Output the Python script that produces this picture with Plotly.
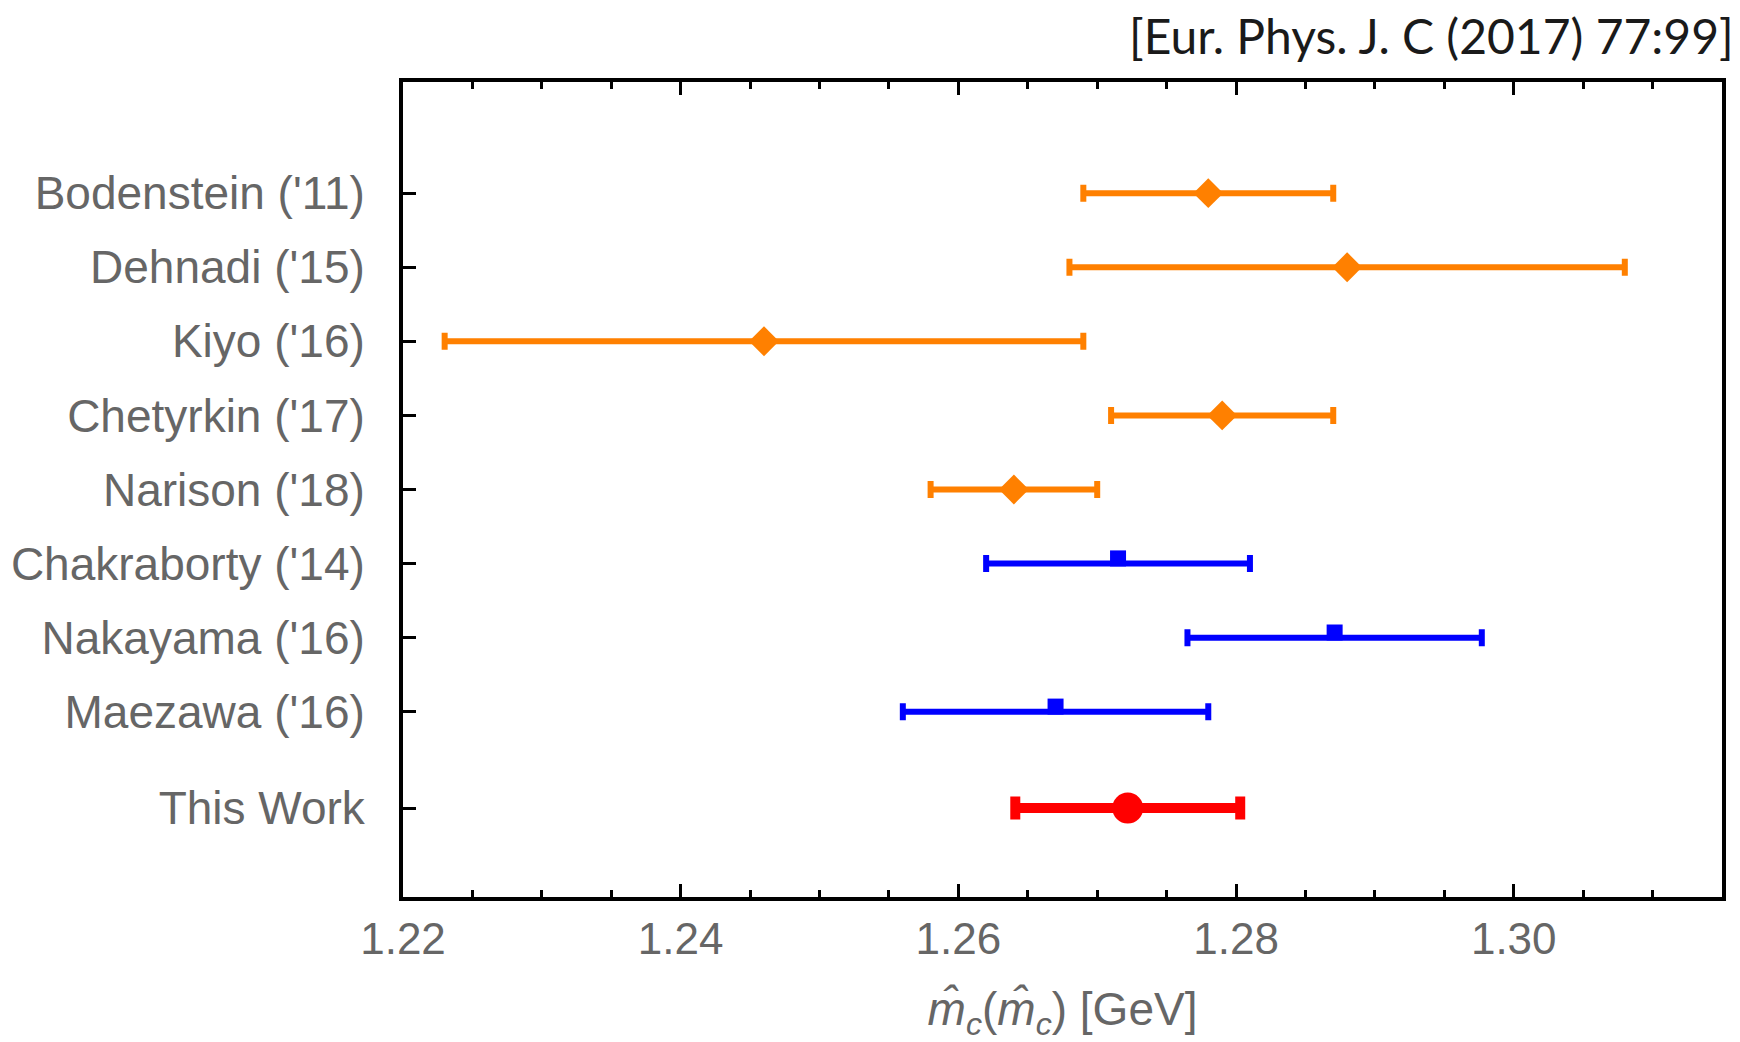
import plotly.graph_objects as go

# Charm-quark MSbar mass determinations, m_c(m_c) in GeV
sumrule_labels = ["Bodenstein ('11)", "Dehnadi ('15)", "Kiyo ('16)", "Chetyrkin ('17)", "Narison ('18)"]
sumrule_central = [1.278, 1.288, 1.246, 1.279, 1.264]
sumrule_err = [0.009, 0.020, 0.023, 0.008, 0.006]

lattice_labels = ["Chakraborty ('14)", "Nakayama ('16)", "Maezawa ('16)"]
lattice_central = [1.2715, 1.2871, 1.267]
lattice_err = [0.0095, 0.0106, 0.011]

this_label = ["This Work"]
this_central = [1.2722]
this_err = [0.0081]

# vertical slots for each row
sumrule_y = [8, 7, 6, 5, 4]
lattice_y = [3, 2, 1]
this_y = [-0.3]

ORANGE = "#FF8000"
BLUE = "#0000FF"
RED = "#FF0000"
GRAY = "#666666"
SQUARE_LIFT = 0.07  # squares sit just above their bar

fig = go.Figure()

# sum-rule results: orange bars with diamonds
fig.add_trace(go.Scatter(
    x=sumrule_central, y=sumrule_y, mode="markers",
    marker=dict(symbol="diamond", size=23, color=ORANGE),
    error_x=dict(type="data", array=sumrule_err, symmetric=True,
                 color=ORANGE, thickness=6, width=8.5),
    hoverinfo="skip", showlegend=False,
))

# lattice results: blue bars with squares
fig.add_trace(go.Scatter(
    x=lattice_central, y=lattice_y, mode="markers",
    marker=dict(symbol="square", size=2, color=BLUE),
    error_x=dict(type="data", array=lattice_err, symmetric=True,
                 color=BLUE, thickness=6, width=8.5),
    hoverinfo="skip", showlegend=False,
))
fig.add_trace(go.Scatter(
    x=lattice_central, y=[v + SQUARE_LIFT for v in lattice_y], mode="markers",
    marker=dict(symbol="square", size=16, color=BLUE),
    hoverinfo="skip", showlegend=False,
))

# this work: thick red bar with a large dot
fig.add_trace(go.Scatter(
    x=this_central, y=this_y, mode="markers",
    marker=dict(symbol="circle", size=31, color=RED),
    error_x=dict(type="data", array=this_err, symmetric=True,
                 color=RED, thickness=10, width=11.5),
    hoverinfo="skip", showlegend=False,
))

fig.update_layout(
    width=1740, height=1042,
    margin=dict(l=403, r=18, t=82, b=145),
    paper_bgcolor="white", plot_bgcolor="white",
    font=dict(family="Liberation Sans, Arial, sans-serif", color=GRAY),
)

fig.update_xaxes(
    range=[1.22, 1.315],
    tickvals=[1.22, 1.24, 1.26, 1.28, 1.30],
    ticktext=["1.22", "1.24", "1.26", "1.28", "1.30"],
    ticks="inside", ticklen=13, tickwidth=3, tickcolor="black",
    minor=dict(dtick=0.005, tick0=1.22, ticks="inside", ticklen=7, tickwidth=3, tickcolor="black"),
    showline=True, linecolor="black", linewidth=4, mirror="ticks",
    showgrid=False, zeroline=False,
    tickfont=dict(size=44, color=GRAY),
    title=dict(text="<i>m\u0302</i><sub><i>c</i></sub>(<i>m\u0302</i><sub><i>c</i></sub>) [GeV]",
               font=dict(size=46, color=GRAY), standoff=34),
)

fig.update_yaxes(
    range=[-1.5, 9.5],
    tickvals=sumrule_y + lattice_y + this_y,
    ticktext=sumrule_labels + lattice_labels + this_label,
    ticks="inside", ticklen=13, tickwidth=3, tickcolor="black",
    ticklabelstandoff=25,
    showline=True, linecolor="black", linewidth=4, mirror=True,
    showgrid=False, zeroline=False,
    tickfont=dict(size=46, color=GRAY),
)

fig.add_annotation(
    text="[Eur. Phys. J. C (2017) 77:99]",
    xref="paper", yref="paper", x=1.0, y=1.0, xanchor="right", yanchor="bottom",
    xshift=14, yshift=16, showarrow=False,
    font=dict(family="Lato, Open Sans, sans-serif", size=48, color="#1a1a1a"),
)

fig.write_html("out.html")
